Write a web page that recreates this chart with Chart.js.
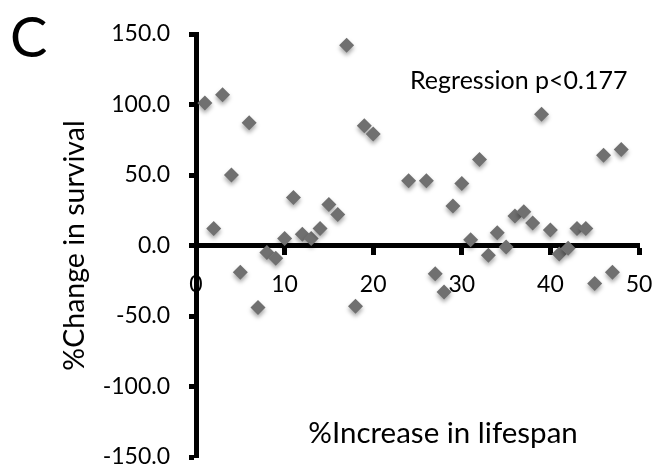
<!DOCTYPE html>
<html>
<head>
<meta charset="utf-8">
<script src="https://cdn.jsdelivr.net/npm/chart.js@4"></script>
<style>
  html, body { margin: 0; padding: 0; background: #fff; }
  #wrap { position: relative; width: 654px; height: 472px; }
</style>
</head>
<body>
<div id="wrap"><canvas id="myChart"></canvas></div>
<script>
// data
let lifespanIncrease = [1,2,3,4,5,6,7,8,9,10,11,12,13,14,15,16,17,18,19,20,24,26,27,28,29,30,31,32,33,34,35,36,37,38,39,40,41,42,43,44,45,46,47,48];
let survivalChange = [101,12,107,50,-19,87,-44,-5,-9,5,34,8,5,12,29,22,142,-43,85,79,46,46,-20,-33,28,44,4,61,-7,9,-1,21,24,16,93,11,-6,-2,12,12,-27,64,-19,68];
let xTickValues = [0,10,20,30,40,50];
let yTickValues = [-150,-100,-50,0,50,100,150];
let panelLetter = 'C';
let regressionNote = 'Regression p<0.177';
let xTitle = '%Increase in lifespan';
let yTitle = '%Change in survival';

const FONT = 'Lato';

function makePoints(){
    let pts = [];
    for(let i=0;i<lifespanIncrease.length;i++){
        pts.push({x: lifespanIncrease[i], y: survivalChange[i]});
    }
    return pts;
}

// soft shadow under the diamonds
const shadowPlugin = {
    id: 'shadow',
    beforeDatasetsDraw(chart){
        const ctx = chart.ctx;
        ctx.save();
        ctx.shadowColor = 'rgba(0,0,0,0.35)';
        ctx.shadowBlur = 4;
        ctx.shadowOffsetY = 3;
    },
    afterDatasetsDraw(chart){
        chart.ctx.restore();
    }
};

// free text: panel letter, note and the x title
const textPlugin = {
    id: 'texts',
    afterDraw(chart){
        const ctx = chart.ctx;
        ctx.save();
        ctx.fillStyle = '#000';
        ctx.textBaseline = 'alphabetic';

        ctx.font = '56px ' + FONT;
        ctx.textAlign = 'left';
        ctx.fillText(panelLetter, 10, 57);

        ctx.font = '25px ' + FONT;
        ctx.fillText(regressionNote, 410, 89);

        ctx.font = '29.5px ' + FONT;
        ctx.textAlign = 'center';
        ctx.fillText(xTitle, 443, 443);
        ctx.restore();
    }
};

function Place(){
    const ctx = document.getElementById('myChart');

    new Chart(ctx, {
        type: 'scatter',
        data: {
            datasets: [{
                data: makePoints(),
                pointStyle: 'rectRot',
                pointRadius: 7.5,
                pointBackgroundColor: '#707070',
                pointBorderColor: '#707070',
                pointBorderWidth: 0
            }]
        },
        options: {
            responsive: true,
            maintainAspectRatio: false,
            animation: false,
            events: [],
            layout: { padding: { top: 34, right: 15, bottom: 15, left: 0 } },
            plugins: {
                legend: { display: false },
                tooltip: { enabled: false }
            },
            scales: {
                x: {
                    type: 'linear',
                    position: { y: 0 },
                    min: 0,
                    max: 50,
                    afterBuildTicks: s => { s.ticks = xTickValues.map(v => ({value: v})); },
                    afterFit: s => { s.height = 0; s.paddingLeft = 0; s.paddingRight = 0; },
                    border: { display: true, color: '#000', width: 5 },
                    grid: { drawOnChartArea: false, drawTicks: true, tickLength: 7, tickWidth: 5, tickColor: '#000' },
                    ticks: {
                        color: '#000',
                        padding: 18,
                        maxRotation: 0,
                        font: { family: FONT, size: 23 },
                        callback: v => String(v)
                    }
                },
                y: {
                    type: 'linear',
                    min: -150,
                    max: 150,
                    afterBuildTicks: s => { s.ticks = yTickValues.map(v => ({value: v})); },
                    afterFit: s => { s.width = 196; s.paddingTop = 0; s.paddingBottom = 0; },
                    border: { display: true, color: '#000', width: 5 },
                    grid: { drawOnChartArea: false, drawTicks: true, tickLength: 7, tickWidth: 5, tickColor: '#000' },
                    ticks: {
                        color: '#000',
                        padding: 19,
                        font: { family: FONT, size: 23 },
                        callback: v => Number(v).toFixed(1)
                    },
                    title: {
                        display: true,
                        text: yTitle,
                        color: '#000',
                        font: { family: FONT, size: 28.5 },
                        padding: { top: 58, bottom: 0 }
                    }
                }
            }
        },
        plugins: [shadowPlugin, textPlugin]
    });
}

function Main(){
    Place();
}
Main();
</script>
</body>
</html>
